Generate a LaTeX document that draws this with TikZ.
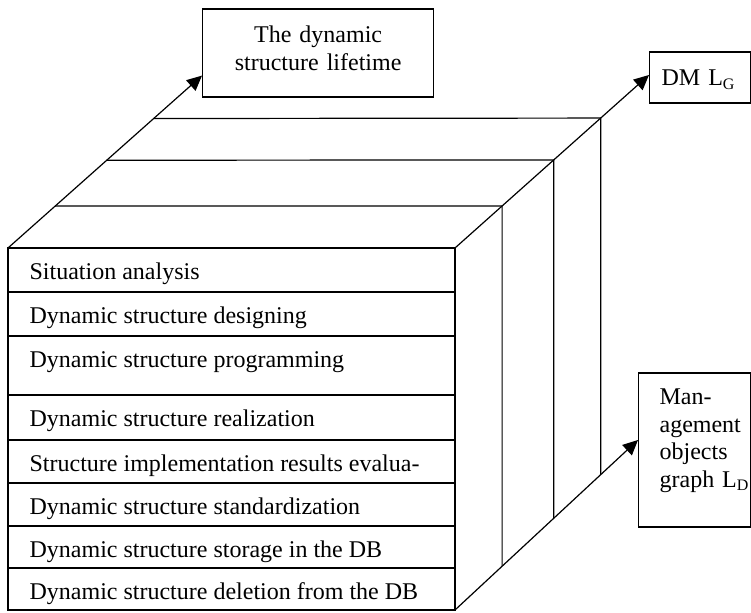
\documentclass[tikz,border=0pt]{standalone}
\usepackage{fontspec}
\setmainfont{Liberation Serif}
\usetikzlibrary{arrows.meta, calc}

\begin{document}
\begin{tikzpicture}[x = .5pt, y = -.5pt, line width = .6pt,
    font = \fontsize{12}{13.7}\selectfont,
    arr/.style = {-{Triangle[length = 7.5pt, width = 7pt]}},
    box/.style = {draw, anchor = base west, inner ysep = 0pt, align = left}]
  \useasboundingbox (0,0) rectangle (751,613);
  % the three boxes
  \node [box, align = center, text width = 115.5pt, inner xsep = 0pt,
         text height = 17pt, text depth = 27pt] (lifetime) at (202,43)
        {The dynamic\\structure lifetime};
  \node [box, text width = 38.5pt, inner xsep = 6pt,
         text height = 17pt, text depth = 8.5pt] (dm) at (649,86)
        {DM L\textsubscript{G}};
  \node [box, text width = 35pt, inner xsep = 10.5pt,
         text height = 16pt, text depth = 61pt] (mgmt) at (638,405)
        {Man-\\\mbox{agement}\\objects\\\mbox{graph L\textsubscript{D}}};
  \coordinate (ltip) at ([yshift = 11pt]lifetime.south west);
  \coordinate (dtip) at ([yshift = 1.25pt]dm.west);
  \coordinate (mtip) at ([yshift = 5pt]mgmt.west);
  % front face of the cube
  \draw (8,248) coordinate (ftl) rectangle (455,610) coordinate (fbr);
  \coordinate (ftr) at (455,248);
  \foreach \y in {292, 336, 395, 440, 483, 526, 568}
    \draw (8,\y) -- (455,\y);
  \foreach \t/\s [count = \i] in {248/Situation analysis,
      292/Dynamic structure designing, 336/Dynamic structure programming,
      395/Dynamic structure realization,
      440/Structure implementation results evalua-,
      483/Dynamic structure standardization,
      526/Dynamic structure storage in the DB,
      568/Dynamic structure deletion from the DB}
    \node [anchor = base west, inner sep = 0pt] (row\i) at (29,{\t+32}) {\s};
  % layers behind
  \foreach \f in {.243, .509, .751}
    \draw ($(ftl)!\f!(ltip)$) -- ($(ftr)!\f!(dtip)$)
       -- ($(fbr)!{1.06*\f}!(mtip)$);
  \draw [arr] (ftl) -- (ltip);
  \draw [arr] (ftr) -- (dtip);
  \draw [arr] (fbr) -- (mtip);
\end{tikzpicture}
\end{document}
